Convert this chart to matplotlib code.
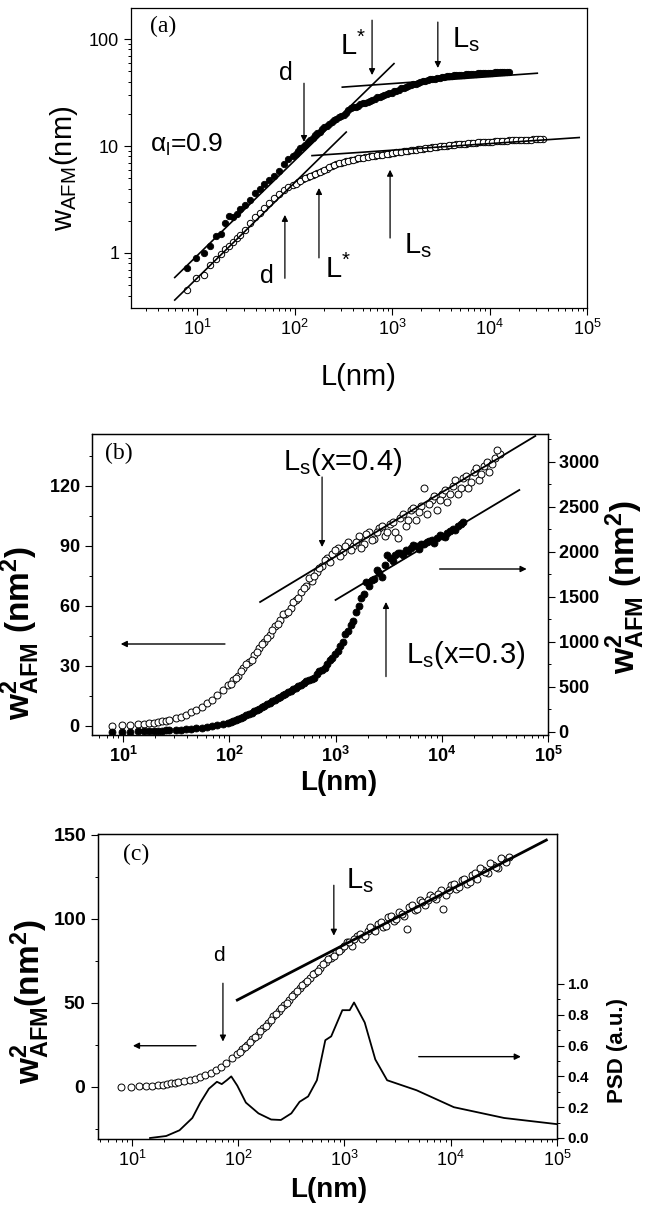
import matplotlib
matplotlib.use('Agg')
import matplotlib.pyplot as plt
from matplotlib.ticker import FixedLocator, FixedFormatter, LogLocator, NullFormatter, MultipleLocator

plt.rcParams['font.family'] = ['Liberation Sans', 'DejaVu Sans']
plt.rcParams['mathtext.fontset'] = 'custom'
plt.rcParams['mathtext.rm'] = 'Liberation Sans'
plt.rcParams['mathtext.it'] = 'Liberation Sans:italic'
plt.rcParams['mathtext.bf'] = 'Liberation Sans:bold'
plt.rcParams['mathtext.sf'] = 'Liberation Sans'
plt.rcParams['mathtext.default'] = 'regular'

# ---------------- data ----------------
# shared window sizes L (nm)
L_nm = [7.8, 9.8, 11.7, 13.7, 15.6, 17.6, 19.5, 21.5, 23.4, 25.4, 27.3,
        31.2, 35, 39.2, 43.9, 49.1, 55, 61.6, 69, 77.3, 86.6, 97, 109, 122,
        136, 153, 171, 191, 214, 240, 269, 301, 337, 378, 423, 474, 531, 594,
        666, 746, 835, 935, 1047, 1173, 1314, 1471, 1648, 1846, 2067, 2315,
        2593, 2904, 3253, 3643, 4080, 4570, 5118, 5733, 6420, 7191, 8054,
        9020, 10100, 11310, 12670, 14190, 15900, 17800, 19940, 22330, 25010,
        28010, 31380, 35140]
# intermediate window sizes (dense part of the measurements)
L_mid2 = [103, 115, 129, 144, 162, 181, 202, 227, 254, 285, 319, 357, 400,
          448, 502]
L_mid = [562, 629, 705, 789, 884, 990, 1108, 1241, 1390, 1557, 1744, 1953,
         2188, 2450, 2745, 3074, 3443, 3856, 4318, 4836, 5417, 6067, 6795,
         7610, 8524, 9545, 10690, 11970, 13410, 15020, 16820, 18840, 21100,
         23630, 26470, 29650, 33210]

# (a) filled circles, w_AFM (nm)
wa_filled = [0.72, 0.9, 1.0, 1.15, 1.45, 1.5, 1.9, 2.2, 2.15, 2.3, 2.6,
             2.8, 3.1, 3.6, 4.0, 4.4, 4.8, 5.3, 5.8, 6.8, 7.5, 8.1, 8.9, 9.8,
             10.8, 12.0, 13.2, 14.3, 15.5, 16.6, 18.0, 19.2, 20.5, 22.5, 23.3,
             24.6, 25.4, 26.6, 27.5, 29.0, 30.0, 31.2, 32.5, 33.6, 35.0, 36.5,
             37.8, 39.0, 40.3, 41.4, 42.3, 43.2, 44.0, 44.8, 45.5, 46.0, 46.4,
             46.9, 47.3, 47.6, 47.9, 48.2, 48.5, 48.8, 49.0, 49.2, 49.4]
wa_filled_mid2 = [8.5, 9.6, 10.2, 11.5, 12.8, 13.6, 15.0, 16.0, 17.5, 18.8,
                  19.6, 21.8, 23.0, 23.8, 25.0]
wa_filled_mid = [26.0, 27.2, 28.5, 29.2, 30.8, 31.6, 33.0, 34.5, 35.6, 37.2,
                 38.3, 39.8, 40.8, 41.9, 42.6, 43.6, 44.3, 45.2, 45.7, 46.3,
                 46.6, 47.2, 47.4, 47.8, 48.0, 48.4, 48.6, 48.9, 49.1, 49.3]
# (a) open circles, w_AFM (nm)
wa_open = [0.45, 0.58, 0.62, 0.78, 0.88, 0.98, 1.08, 1.17, 1.27, 1.38, 1.47,
           1.65, 1.92, 2.15, 2.35, 2.65, 2.95, 3.25, 3.55, 3.85, 4.1, 4.35,
           4.6, 4.9, 5.1, 5.35, 5.6, 5.85, 6.1, 6.5, 6.8, 7.0, 7.2, 7.4, 7.55,
           7.75, 7.85, 8.0, 8.1, 8.25, 8.4, 8.5, 8.65, 8.8, 8.9, 9.05, 9.2,
           9.3, 9.4, 9.55, 9.7, 9.8, 9.95, 10.1, 10.25, 10.35, 10.45, 10.55,
           10.65, 10.75, 10.85, 10.9, 11.0, 11.05, 11.15, 11.2, 11.3, 11.35,
           11.4, 11.45, 11.5, 11.55, 11.6, 11.65]
wa_open_mid2 = [4.4, 4.7, 5.0, 5.2, 5.45, 5.7, 6.0, 6.3, 6.65, 6.9, 7.1, 7.3,
                7.45, 7.65, 7.8]
wa_open_mid = [7.9, 8.05, 8.2, 8.3, 8.45, 8.6, 8.7, 8.85, 8.95, 9.1, 9.25,
               9.35, 9.5, 9.6, 9.75, 9.9, 10.0, 10.2, 10.3, 10.4, 10.5, 10.6,
               10.7, 10.8, 10.85, 10.95, 11.0, 11.1, 11.2, 11.25, 11.3, 11.4,
               11.45, 11.5, 11.5, 11.6, 11.6]
# (a) fitted straight lines (L, w)
fitA_filled_L = [5.9, 1047]
fitA_filled_w = [0.59, 58.9]
fitA_open_L = [5.9, 339]
fitA_open_w = [0.363, 13.5]
satA_filled_L = [309, 30900]
satA_filled_w = [35.5, 47.9]
satA_open_L = [151, 83200]
satA_open_w = [8.13, 12.0]

# (b) open circles (left axis, nm^2)
wb_open = [0.2, 0.4, 0.5, 0.8, 1.0, 1.3, 1.6, 2.0, 2.3, 2.7, 3.2, 3.8, 4.5,
           5.5, 7.0, 8.2, 9.5, 11.5, 13.0, 15.5, 18.0, 20.5, 23.0, 25.0, 29.0,
           32.0, 35.5, 39.0, 42.0, 45.5, 50.0, 53.0, 56.0, 59.0, 63.0, 67.0,
           70.0, 72.5, 77.0, 80.0, 84.0, 86.0, 89.0, 87.0, 92.0, 90.0, 95.0,
           91.0, 97.0, 93.5, 99.0, 95.0, 101.0, 97.0, 104.0, 100.0, 108.0,
           103.0, 110.0, 106.0, 113.0, 108.0, 116.0, 112.0, 120.0, 116.0,
           124.0, 119.0, 127.0, 123.0, 130.0, 127.0, 134.0, 136.0]
wb_open_mid2 = [21, 24, 27.5, 31, 33, 37, 41, 44, 48, 51, 56, 57, 62, 64, 69]
wb_open_mid = [74, 75, 79, 83, 82, 88, 85, 90, 88, 92, 89, 96, 93, 97, 100,
               97, 102, 94, 106, 103, 109, 107, 119, 111, 115, 113, 118, 116,
               123, 119, 125, 122, 129, 126, 132, 131, 138]
# (b) filled circles (right axis, nm^2)
wb_filled = [0, 0, 0, 2, 4, 6, 8, 10, 12, 14, 16, 20, 24, 28, 33, 40, 46, 55,
             65, 75, 88, 100, 120, 140, 165, 195, 225, 255, 290, 320, 355, 390,
             420, 455, 490, 520, 560, 590, 640, 690, 750, 820, 900, 1000, 1120,
             1230, 1400, 1530, 1620, 1700, 1760, 1850, 1930, 1960, 1990, 2020,
             2040, 2060, 2090, 2110, 2130, 2150, 2170, 2210, 2250, 2290, 2330]
wb_filled_mid2 = [105, 130, 150, 180, 210, 240, 270, 305, 340, 370, 405, 440,
                  470, 505, 540]
wb_filled_mid = [575, 600, 670, 710, 800, 860, 950, 1080, 1180, 1330, 1480,
                 1660, 1680, 1800, 1720, 1960, 1900, 1990, 1960, 2010, 2070,
                 2030, 2080, 2120, 2100, 2180, 2160, 2230, 2240, 2310]
fitB_open_L = [195, 75900]
fitB_open_w = [62, 145]
fitB_filled_L = [1000, 53700]
fitB_filled_w = [1463, 2685]

# (c) open circles (left axis, nm^2)
wc_open = [0.0, 0.2, 0.4, 0.6, 0.8, 1.0, 1.4, 1.8, 2.2, 2.5, 2.9, 3.6, 4.2,
           5.0, 6.0, 7.0, 8.5, 10.0, 12.0, 14.0, 17.0, 19.5, 22.5, 25.0, 28.5,
           31.0, 35.0, 38.0, 42.0, 45.0, 48.5, 52.0, 55.0, 59.0, 62.0, 65.0,
           68.0, 71.0, 74.5, 77.0, 80.5, 82.0, 86.0, 84.0, 90.0, 88.0, 93.0,
           94.0, 97.0, 95.0, 101.0, 99.0, 104.0, 102.0, 107.0, 105.0, 111.0,
           108.0, 114.0, 112.0, 117.0, 114.0, 120.0, 118.0, 123.0, 121.0,
           126.0, 124.0, 129.0, 127.0, 132.0, 130.0, 135.0, 137.0]
wc_open_mid2 = [20.5, 23.5, 27, 29.5, 33, 36, 40, 43.5, 47, 50, 54, 57, 60.5,
                63, 67]
wc_open_mid = [69, 73, 76, 78, 81, 84, 86, 88, 91, 90, 95, 93, 98, 96, 102,
               100, 103, 94, 108, 106, 110, 111, 113, 115, 106, 117, 121, 119,
               124, 122, 127, 130, 128, 133, 131, 136, 134]
fitC_L = [98, 79400]
fitC_w = [51.7, 146.9]
# (c) PSD curve (right axis, a.u.)
L_psd = [14.8, 21, 28, 37, 44, 53, 63, 70, 78, 86, 98, 118, 155, 204, 252,
         316, 378, 455, 550, 660, 750, 955, 1120, 1230, 1550, 1950, 2520,
         4770, 10700, 31800, 100000]
psd = [0.0, 0.013, 0.05, 0.13, 0.23, 0.32, 0.365, 0.35, 0.375, 0.40, 0.34,
       0.23, 0.16, 0.12, 0.117, 0.16, 0.235, 0.27, 0.375, 0.635, 0.66, 0.83,
       0.83, 0.88, 0.75, 0.51, 0.375, 0.31, 0.2, 0.13, 0.09]

# ---------------- figure ----------------
W, H = 652, 1211
fig = plt.figure(figsize=(W / 100, H / 100), dpi=100)

OPEN = dict(marker='o', ls='none', mfc='white', mec='k', mew=0.7)
FILLED = dict(marker='o', ls='none', mfc='k', mec='k', mew=0.6)


def arrow(ax, tail, head, lw=0.9, ms=9):
    ax.annotate('', xy=head, xytext=tail,
                arrowprops=dict(arrowstyle='-|>', color='k', lw=lw,
                                shrinkA=0, shrinkB=0, mutation_scale=ms))


def decade_labels(bold):
    if bold:
        return [r'$\mathbf{10^{%d}}$' % k for k in range(1, 6)]
    return [r'$10^{%d}$' % k for k in range(1, 6)]


def style_logx(ax, bold, size):
    ax.xaxis.set_major_locator(FixedLocator([1e1, 1e2, 1e3, 1e4, 1e5]))
    ax.xaxis.set_major_formatter(FixedFormatter(decade_labels(bold)))
    ax.xaxis.set_minor_locator(LogLocator(base=10, subs=range(2, 10), numticks=30))
    ax.xaxis.set_minor_formatter(NullFormatter())
    ax.tick_params(axis='x', which='major', direction='out', length=5,
                   width=0.8, labelsize=size, pad=3, top=False)
    ax.tick_params(axis='x', which='minor', direction='out', length=2.5,
                   width=0.7, top=False)


# ---------- panel (a) ----------
axA = fig.add_axes([131 / W, 1 - 308 / H, 456 / W, 300 / H])
axA.set_xscale('log')
axA.set_yscale('log')
axA.set_xlim(2.1, 1e5)
axA.set_ylim(0.306, 195)
style_logx(axA, False, 13)
axA.yaxis.set_major_locator(FixedLocator([1, 10, 100]))
axA.yaxis.set_major_formatter(FixedFormatter(['1', '10', '100']))
axA.yaxis.set_minor_locator(LogLocator(base=10, subs=range(2, 10), numticks=30))
axA.yaxis.set_minor_formatter(NullFormatter())
axA.tick_params(axis='y', which='major', direction='out', length=5, width=0.8,
                labelsize=13, right=False)
axA.tick_params(axis='y', which='minor', direction='out', length=2.5,
                width=0.7, right=False)

axA.plot(L_nm[:len(wa_filled)], wa_filled, ms=4.6, **FILLED)
axA.plot(L_mid2, wa_filled_mid2, ms=4.6, **FILLED)
axA.plot(L_mid[:len(wa_filled_mid)], wa_filled_mid, ms=4.6, **FILLED)
axA.plot(L_nm[:len(wa_open)], wa_open, ms=4.6, **OPEN)
axA.plot(L_mid2, wa_open_mid2, ms=4.6, **OPEN)
axA.plot(L_mid, wa_open_mid, ms=4.6, **OPEN)
for xs, ys in [(fitA_filled_L, fitA_filled_w), (fitA_open_L, fitA_open_w),
               (satA_filled_L, satA_filled_w), (satA_open_L, satA_open_w)]:
    axA.plot(xs, ys, '-', color='k', lw=1.2)

axA.text(0.07, 0.937, '(a)', transform=axA.transAxes, ha='center', va='center',
         fontsize=17, family='Liberation Serif')
axA.text(3.3, 8.8, r'$\alpha_{l}$=0.9', fontsize=19, ha='left', va='baseline')
axA.text(69, 41.4, 'd', fontsize=18, ha='left', va='baseline')
arrow(axA, (125, 38.6), (125, 10.9))
axA.text(293, 71, r'L$^{*}$', fontsize=21, ha='left', va='baseline')
arrow(axA, (624, 150), (624, 46))
axA.text(4120, 84.7, r'L$_{s}$', fontsize=21, ha='left', va='baseline')
arrow(axA, (2950, 144), (2950, 53.6))
axA.text(44.3, 0.525, 'd', fontsize=18, ha='left', va='baseline')
arrow(axA, (79.6, 0.58), (79.6, 2.27))
axA.text(205.6, 0.58, r'L$^{*}$', fontsize=21, ha='left', va='baseline')
arrow(axA, (178, 0.9), (178, 4.05))
axA.text(1327, 1.0, r'L$_{s}$', fontsize=21, ha='left', va='baseline')
arrow(axA, (955, 1.38), (955, 6.0))

axA.set_ylabel(r'w$_{AFM}$(nm)', fontsize=21)
axA.yaxis.set_label_coords(-0.112, 0.467)
axA.set_xlabel('L(nm)', fontsize=21)
axA.xaxis.set_label_coords(0.5, -0.183)

# ---------- panel (b) ----------
axB = fig.add_axes([92 / W, 1 - 735 / H, 456 / W, 301 / H])
axB.set_xscale('log')
axB.set_xlim(5.1, 1e5)
axB.set_ylim(-4.5, 146)
style_logx(axB, True, 13)
axB.yaxis.set_major_locator(FixedLocator([0, 30, 60, 90, 120]))
axB.yaxis.set_major_formatter(FixedFormatter([r'$\mathbf{%d}$' % v for v in [0, 30, 60, 90, 120]]))
axB.yaxis.set_minor_locator(MultipleLocator(15))
axB.tick_params(axis='y', which='major', direction='out', length=5, width=0.8,
                labelsize=13, right=False)
axB.tick_params(axis='y', which='minor', direction='out', length=2.5,
                width=0.7, right=False)
axB2 = axB.twinx()
axB2.set_ylim(-37, 3307)
axB2.yaxis.set_major_locator(FixedLocator([0, 500, 1000, 1500, 2000, 2500, 3000]))
axB2.yaxis.set_major_formatter(FixedFormatter([r'$\mathbf{%d}$' % v for v in [0, 500, 1000, 1500, 2000, 2500, 3000]]))
axB2.yaxis.set_minor_locator(MultipleLocator(250))
axB2.tick_params(axis='y', which='major', direction='out', length=5, width=0.8,
                 labelsize=13, pad=2)
axB2.tick_params(axis='y', which='minor', direction='out', length=2.5, width=0.7)

axB.plot(L_nm[:len(wb_open)], wb_open, ms=5, **OPEN)
axB.plot(L_mid2, wb_open_mid2, ms=5, **OPEN)
axB.plot(L_mid, wb_open_mid, ms=5, **OPEN)
axB.plot(fitB_open_L, fitB_open_w, '-', color='k', lw=1.3)
axB2.plot(L_nm[:len(wb_filled)], wb_filled, ms=5, **FILLED)
axB2.plot(L_mid2, wb_filled_mid2, ms=5, **FILLED)
axB2.plot(L_mid[:len(wb_filled_mid)], wb_filled_mid, ms=5, **FILLED)
axB2.plot(fitB_filled_L, fitB_filled_w, '-', color='k', lw=1.3)

axB.text(0.059, 0.937, '(b)', transform=axB.transAxes, ha='center', va='center',
         fontsize=17, family='Liberation Serif')
axB.text(321, 128, r'L$_{s}$(x=0.4)', fontsize=21, ha='left', va='baseline')
arrow(axB, (747, 124.5), (747, 89.5))
axB.text(4570, 31.5, r'L$_{s}$(x=0.3)', fontsize=21, ha='left', va='baseline')
arrow(axB, (2985, 24.7), (2985, 62))
arrow(axB, (91, 41), (9.5, 41), lw=1.0)
arrow(axB, (9550, 78.5), (63000, 78.5), lw=1.0)

lab_b = r'$\mathbf{w^{2}_{AFM}}$ $\mathbf{(nm^{2})}$'
axB.set_ylabel(lab_b, fontsize=24)
axB.yaxis.set_label_coords(-0.110, 0.34)
axB2.set_ylabel(lab_b, fontsize=24)
axB2.yaxis.set_label_coords(1.121, 0.49)
axB.set_xlabel('L(nm)', fontsize=20, fontweight='bold')
axB.xaxis.set_label_coords(0.54, -0.116)

# ---------- panel (c) ----------
axC = fig.add_axes([98 / W, 1 - 1139 / H, 459 / W, 305 / H])
axC.set_xscale('log')
axC.set_xlim(4.79, 1e5)
axC.set_ylim(-31, 150.5)
style_logx(axC, False, 13)
axC.yaxis.set_major_locator(FixedLocator([0, 50, 100, 150]))
axC.yaxis.set_major_formatter(FixedFormatter([r'$\mathbf{%d}$' % v for v in [0, 50, 100, 150]]))
axC.yaxis.set_minor_locator(MultipleLocator(25))
axC.tick_params(axis='y', which='major', direction='out', length=5, width=0.8,
                labelsize=14, right=False)
axC.tick_params(axis='y', which='minor', direction='out', length=2.5,
                width=0.7, right=False)
axC2 = axC.twinx()
axC2.set_ylim(-0.0065, 1.974)
axC2.yaxis.set_major_locator(FixedLocator([0.0, 0.2, 0.4, 0.6, 0.8, 1.0]))
axC2.yaxis.set_major_formatter(FixedFormatter([r'$\mathbf{%.1f}$' % v for v in [0.0, 0.2, 0.4, 0.6, 0.8, 1.0]]))
axC2.yaxis.set_minor_locator(FixedLocator([0.1, 0.3, 0.5, 0.7, 0.9]))
axC2.tick_params(axis='y', which='major', direction='out', length=5, width=0.8,
                 labelsize=11, pad=2)
axC2.tick_params(axis='y', which='minor', direction='out', length=2.5, width=0.7)

axC.plot(L_nm[:len(wc_open)], wc_open, ms=5, **OPEN)
axC.plot(L_mid2, wc_open_mid2, ms=5, **OPEN)
axC.plot(L_mid, wc_open_mid, ms=5, **OPEN)
axC.plot(fitC_L, fitC_w, '-', color='k', lw=2.0)
axC2.plot(L_psd, psd, '-', color='k', lw=1.3)

axC.text(0.083, 0.934, '(c)', transform=axC.transAxes, ha='center', va='center',
         fontsize=17, family='Liberation Serif')
axC.text(1030, 118, r'L$_{s}$', fontsize=21, ha='left', va='baseline')
arrow(axC, (794, 120), (794, 90))
axC.text(57.8, 75, 'd', fontsize=15, ha='left', va='baseline')
arrow(axC, (71.8, 61.7), (71.8, 27))
arrow(axC, (40, 24.5), (10.2, 24.5), lw=1.0)
arrow(axC, (5000, 18), (45700, 18), lw=1.0)

axC.set_ylabel(r'$\mathbf{w^{2}_{AFM}(nm^{2})}$', fontsize=24)
axC.yaxis.set_label_coords(-0.100, 0.45)
axC2.set_ylabel('PSD (a.u.)', fontsize=16, fontweight='bold')
axC2.yaxis.set_label_coords(1.109, 0.289)
axC.set_xlabel('L(nm)', fontsize=20, fontweight='bold')
axC.xaxis.set_label_coords(0.503, -0.125)

for ax in [axA, axB, axB2, axC, axC2]:
    for s in ax.spines.values():
        s.set_linewidth(0.9)

fig.savefig('out.png', dpi=100)
